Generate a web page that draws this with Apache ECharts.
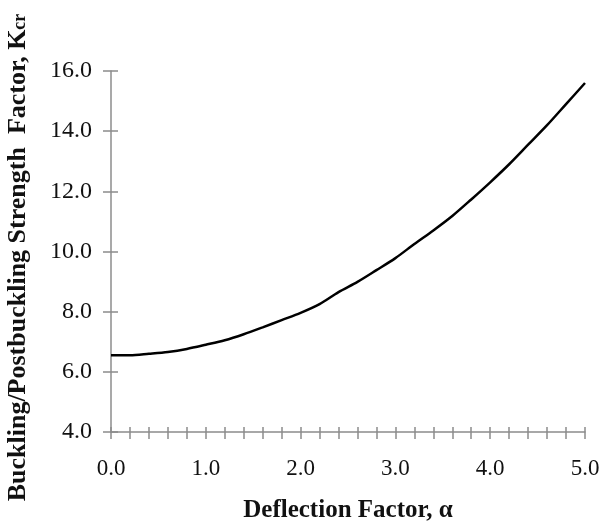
<!DOCTYPE html>
<html>
<head>
<meta charset="utf-8">
<script src="https://cdn.jsdelivr.net/npm/echarts@6/dist/echarts.min.js"></script>
<style>html,body{margin:0;padding:0;background:#fff}#c{width:614px;height:526px}</style>
</head>
<body>
<div id="c"></div>
<script>
const alpha = [0, 0.2, 0.4, 0.6, 0.8, 1.0, 1.2, 1.4, 1.6, 1.8, 2.0, 2.2, 2.4, 2.6, 2.8, 3.0, 3.2, 3.4, 3.6, 3.8, 4.0, 4.2, 4.4, 4.6, 4.8, 5.0];
const kcr = [6.55, 6.55, 6.6, 6.66, 6.76, 6.9, 7.05, 7.25, 7.48, 7.72, 7.96, 8.25, 8.65, 8.99, 9.38, 9.78, 10.25, 10.7, 11.18, 11.73, 12.3, 12.9, 13.55, 14.2, 14.9, 15.6];
const xTicks = [0, 1, 2, 3, 4, 5];
const yTicks = [4, 6, 8, 10, 12, 14, 16];

const font = 'Liberation Serif';
const chart = echarts.init(document.getElementById('c'), null, {renderer: 'canvas'});
const axisLineStyle = {color: '#8c8c8c', width: 1.5};
chart.setOption({
  animation: false,
  grid: {left: 111, right: 29, top: 71, bottom: 94, containLabel: false, outerBoundsMode: 'none'},
  xAxis: [{
    type: 'value', min: 0, max: 5, interval: 0.2,
    axisLine: {show: true, lineStyle: axisLineStyle},
    axisTick: {show: true, inside: false, length: 7, lineStyle: axisLineStyle},
    splitLine: {show: false},
    axisLabel: {
      fontFamily: font, fontSize: 23, color: '#111', margin: 25,
      formatter: v => xTicks.some(t => Math.abs(t - v) < 1e-6) ? v.toFixed(1) : ''
    },
    name: 'Deflection Factor, α', nameLocation: 'middle', nameGap: 66,
    nameTextStyle: {fontFamily: font, fontSize: 25, fontWeight: 'bold', color: '#111'}
  }, {
    type: 'value', min: 0, max: 5, interval: 0.2, position: 'bottom',
    axisLine: {show: false},
    axisTick: {show: true, inside: true, length: 5, lineStyle: axisLineStyle},
    splitLine: {show: false}, axisLabel: {show: false}
  }],
  yAxis: [{
    type: 'value', min: 4, max: 16, interval: 2,
    axisLine: {show: true, lineStyle: axisLineStyle},
    axisTick: {show: true, inside: false, length: 8, lineStyle: axisLineStyle},
    splitLine: {show: false},
    axisLabel: {
      fontFamily: font, fontSize: 24, color: '#111', margin: 19,
      formatter: v => yTicks.includes(v) ? v.toFixed(1) : ''
    },
    name: '{m|Buckling/Postbuckling Strength  Factor, K}{s|cr}', nameLocation: 'middle', nameGap: 80,
    nameTextStyle: {
      padding: [0, 12, 0, 0],
      rich: {
        m: {fontFamily: font, fontSize: 26, fontWeight: 'bold', color: '#111'},
        s: {fontFamily: font, fontSize: 18, fontWeight: 'bold', color: '#111', padding: [4, 0, 0, 0]}
      }
    }
  }, {
    type: 'value', min: 4, max: 16, interval: 2, position: 'left',
    axisLine: {show: false},
    axisTick: {show: true, inside: true, length: 7, lineStyle: axisLineStyle},
    splitLine: {show: false}, axisLabel: {show: false}
  }],
  series: [{
    type: 'line',
    data: alpha.map((a, i) => [a, kcr[i]]),
    smooth: 0.3,
    showSymbol: false,
    lineStyle: {color: '#000', width: 2.5}
  }]
});
</script>
</body>
</html>
